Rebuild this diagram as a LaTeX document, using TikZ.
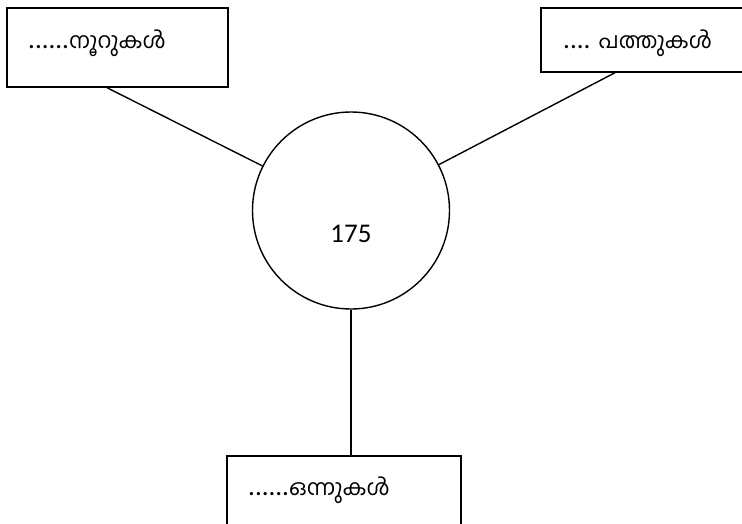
\documentclass[tikz,border=0pt]{standalone}
\usepackage{fontspec}
\setmainfont{Carlito}
\newfontfamily\mal[Script=Malayalam]{Hind Kochi}
\begin{document}
\begin{tikzpicture}[x=1pt,y=-1pt,
  box/.style={draw,line width=1.4pt,rectangle,inner sep=0pt},
  conn/.style={line width=1.4pt},
  lbl/.style={anchor=west,inner sep=0pt,font=\fontsize{27}{32}\selectfont}]
\useasboundingbox (0,0) rectangle (742,523);
\clip (0,0) rectangle (742,523);
\node[box,minimum width=221pt,minimum height=79pt] (a) at (117.5,47.5) {};
\node[box,minimum width=209pt,minimum height=64pt] (b) at (645.5,40) {};
\node[box,minimum width=234pt,minimum height=84pt] (d) at (344,498) {};
\node[draw,circle,line width=1.4pt,minimum size=197pt,inner sep=0pt] (c) at (351,210.5) {};
\node[inner sep=0pt,font=\fontsize{27}{32}\selectfont] (n) at (351,234) {175};
\node[lbl] (ta) at (28,43) {......{\mal\fontsize{22}{28}\selectfont നൂറുകൾ}};
\node[lbl] (tb) at (563,43) {.... {\mal\fontsize{22}{28}\selectfont പത്തുകൾ}};
\node[lbl] (td) at (248,490) {......{\mal\fontsize{22}{28}\selectfont ഒന്നുകൾ}};
\draw[conn] ([xshift=-10.5pt]a.south) -- (c);
\draw[conn] ([xshift=-30.5pt]b.south) -- (c);
\draw[conn] (c.south) -- (c.south |- d.north);
\end{tikzpicture}
\end{document}
